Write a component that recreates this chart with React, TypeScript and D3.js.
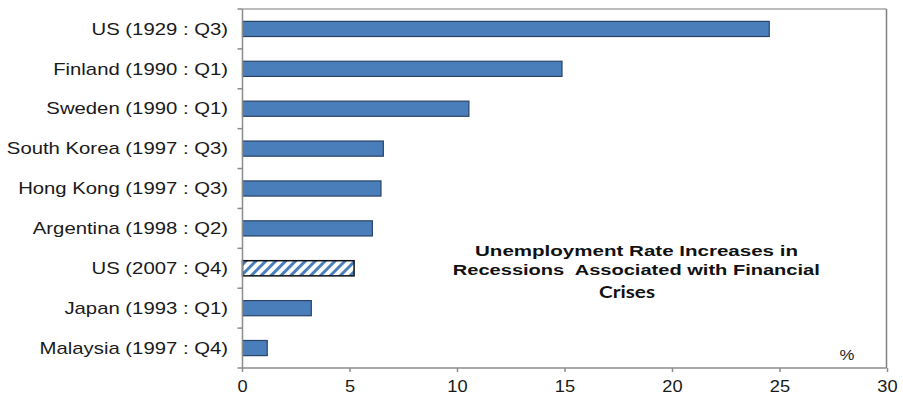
import React from "react";
import * as d3 from "d3";

const categories = [
  "US (1929 : Q3)",
  "Finland (1990 : Q1)",
  "Sweden (1990 : Q1)",
  "South Korea (1997 : Q3)",
  "Hong Kong (1997 : Q3)",
  "Argentina (1998 : Q2)",
  "US (2007 : Q4)",
  "Japan (1993 : Q1)",
  "Malaysia (1997 : Q4)",
];
const values = [24.5, 14.86, 10.53, 6.55, 6.44, 6.04, 5.19, 3.2, 1.15];
const hatched = [false, false, false, false, false, false, true, false, false];
const xTicks = [0, 5, 10, 15, 20, 25, 30];
const titleLines = ["Unemployment Rate Increases in", "Recessions  Associated with Financial"];
const titleLast = "Crises";
const unitLabel = "%";

const W = 903;
const H = 395;
const left = 242.5;
const right = 886.5;
const top = 9;
const bottom = 368;

export default function App() {
  const x = d3.scaleLinear().domain([0, 30]).range([left, left + 21.5 * 30]);
  const y = d3.scaleBand<string>().domain(categories).range([top, bottom]).paddingInner(0.62).paddingOuter(0.31);
  const step = y.step();
  const axisColor = "#8c8c8c";
  const boundaries = d3.range(categories.length + 1).map((i) => top + i * step);

  return (
    <svg width={W} height={H} style={{ position: "absolute", left: 0, top: 0, background: "#fff" }}>
      <defs>
        <pattern id="hatch" patternUnits="userSpaceOnUse" width="7" height="7" patternTransform="rotate(45)">
          <rect width="7" height="7" fill="#fff" />
          <rect x="0" y="0" width="3" height="7" fill="#4a7ebb" />
        </pattern>
      </defs>
      <rect x={0} y={0} width={W} height={H} fill="#fff" />
      {/* frame */}
      <line x1={left} x2={right} y1={top} y2={top} stroke="#a6a6a6" strokeWidth={1.5} />
      <line x1={right} x2={right} y1={top} y2={bottom} stroke="#7f7f7f" strokeWidth={1.5} />
      {/* bars */}
      {categories.map((c, i) => (
        <rect
          key={c}
          x={x(0)}
          y={y(c)!}
          width={x(values[i]) - x(0)}
          height={y.bandwidth()}
          fill={hatched[i] ? "url(#hatch)" : "#4a7ebb"}
          stroke={hatched[i] ? "#111" : "#2a4366"}
          strokeWidth={hatched[i] ? 1.5 : 1.2}
        />
      ))}
      {/* y axis */}
      <line x1={left} x2={left} y1={top} y2={bottom} stroke={axisColor} strokeWidth={1.5} />
      {boundaries.map((b, i) => (
        <line key={i} x1={left - 5} x2={left} y1={b} y2={b} stroke={axisColor} strokeWidth={1.5} />
      ))}
      {categories.map((c) => (
        <text
          key={c}
          transform={`translate(228,${y(c)! + y.bandwidth() / 2}) scale(1.27,1)`}
          textAnchor="end"
          dy="0.36em"
          fontFamily="Liberation Sans, Arial, sans-serif"
          fontSize={16}
          fill="#1a1a1a"
        >
          {c}
        </text>
      ))}
      {/* x axis */}
      <line x1={left} x2={right} y1={bottom} y2={bottom} stroke={axisColor} strokeWidth={1.5} />
      {xTicks.map((t) => (
        <g key={t}>
          <line x1={x(t)} x2={x(t)} y1={bottom} y2={bottom + 4} stroke={axisColor} strokeWidth={1.5} />
          <text
            transform={`translate(${x(t)},392) scale(1.14,1)`}
            textAnchor="middle"
            fontFamily="Liberation Sans, Arial, sans-serif"
            fontSize={16}
            fill="#1a1a1a"
          >
            {t}
          </text>
        </g>
      ))}
      {/* title */}
      <text x={636.5} y={256} textAnchor="middle" fontFamily="Liberation Sans, Arial, sans-serif" fontWeight="bold" fontSize={14} fill="#111" textLength={323} lengthAdjust="spacingAndGlyphs">
        {titleLines[0]}
      </text>
      <text x={636.3} y={274.5} textAnchor="middle" fontFamily="Liberation Sans, Arial, sans-serif" fontWeight="bold" fontSize={14} fill="#111" textLength={367} lengthAdjust="spacingAndGlyphs" style={{ whiteSpace: "pre" }}>
        {titleLines[1]}
      </text>
      <text x={627} y={298} textAnchor="middle" fontFamily="Lato, Open Sans, sans-serif" fontWeight="bold" fontSize={17} fill="#111" textLength={56} lengthAdjust="spacingAndGlyphs">
        {titleLast}
      </text>
      <text x={847} y={360} textAnchor="middle" fontFamily="Liberation Sans, Arial, sans-serif" fontSize={14} fill="#222" transform="translate(-169.4,0) scale(1.2,1)">
        {unitLabel}
      </text>
    </svg>
  );
}
